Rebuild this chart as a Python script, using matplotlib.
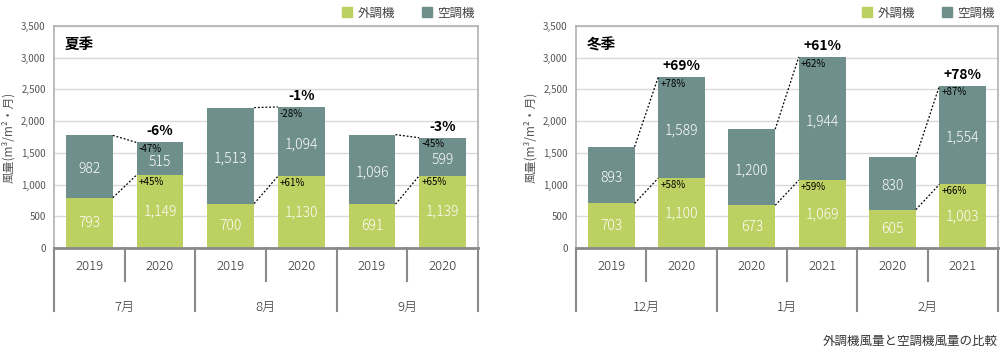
import matplotlib.pyplot as plt
import matplotlib.transforms as mtransforms
from matplotlib.patches import Patch

plt.rcParams['font.family'] = ['Noto Sans CJK JP', 'DejaVu Sans']

# データ
years_summer = ['2019', '2020', '2019', '2020', '2019', '2020']
months_summer = ['7月', '8月', '9月']
out_summer = [793, 1149, 700, 1130, 691, 1139]
ac_summer = [982, 515, 1513, 1094, 1096, 599]
out_pct_summer = ['+45%', '+61%', '+65%']
ac_pct_summer = ['-47%', '-28%', '-45%']
tot_pct_summer = ['-6%', '-1%', '-3%']

years_winter = ['2019', '2020', '2020', '2021', '2020', '2021']
months_winter = ['12月', '1月', '2月']
out_winter = [703, 1100, 673, 1069, 605, 1003]
ac_winter = [893, 1589, 1200, 1944, 830, 1554]
out_pct_winter = ['+58%', '+59%', '+66%']
ac_pct_winter = ['+78%', '+62%', '+87%']
tot_pct_winter = ['+69%', '+61%', '+78%']

GREEN = '#bdd062'
TEAL = '#6f8f8c'
W = 0.665


def draw(ax, title, years, months, out, ac, out_pct, ac_pct, tot_pct):
    x = [i + 0.5 for i in range(len(out))]
    ax.set_xlim(0, 6)
    ax.set_ylim(0, 3500)
    ax.set_yticks(range(0, 3501, 500))
    ax.set_yticklabels([f'{v:,}' for v in range(0, 3501, 500)], fontsize=7, color='#555555')
    ax.tick_params(axis='y', length=0, pad=6)
    ax.set_xticks([])
    ax.grid(axis='y', color='#d9d9d9', linewidth=1)
    ax.set_axisbelow(True)
    for s in ['left', 'right', 'top']:
        ax.spines[s].set_color('#b0b0b0')
        ax.spines[s].set_linewidth(1.2)
    ax.spines['bottom'].set_color('#8a8a8a')
    ax.spines['bottom'].set_linewidth(2)

    ax.bar(x, out, width=W, color=GREEN, zorder=2)
    ax.bar(x, ac, width=W, bottom=out, color=TEAL, zorder=2)

    for i in range(len(out)):
        ax.text(x[i], out[i] / 2, f'{out[i]:,}', ha='center', va='center',
                color='white', fontsize=10, fontweight='light', zorder=3)
        ax.annotate(f'{ac[i]:,}', (x[i], out[i] + ac[i] / 2), xytext=(0, -2),
                    textcoords='offset points', ha='center', va='center',
                    color='white', fontsize=10, fontweight='light', zorder=3)

    # 比較（点線・増減率）
    for k in range(3):
        a, b = 2 * k, 2 * k + 1
        ta, tb = out[a] + ac[a], out[b] + ac[b]
        ax.plot([x[a] + W / 2, x[b] - W / 2], [ta, tb], ls=(0, (1.5, 1.5)),
                color='black', lw=0.9, zorder=3)
        ax.plot([x[a] + W / 2, x[b] - W / 2], [out[a], out[b]], ls=(0, (1.5, 1.5)),
                color='black', lw=0.9, zorder=3)
        ax.annotate(ac_pct[k], (x[b] - W / 2, tb), xytext=(1.5, -1.2), textcoords='offset points',
                    ha='left', va='top', fontsize=7, zorder=4)
        ax.annotate(out_pct[k], (x[b] - W / 2, out[b]), xytext=(1.5, -1.2), textcoords='offset points',
                    ha='left', va='top', fontsize=7, zorder=4)
        ax.annotate(tot_pct[k], (x[b], tb), xytext=(0, 3), textcoords='offset points',
                    ha='center', va='bottom', fontsize=10, fontweight='bold', zorder=4)

    ax.text(0.025, 0.955, title, transform=ax.transAxes, ha='left', va='top',
            fontsize=10.5, fontweight='bold')

    # 下部の区切り線とラベル
    tr = mtransforms.blended_transform_factory(ax.transData, ax.transAxes)
    for i in range(1, 6, 2):
        ax.plot([i, i], [0, -0.15], transform=tr, color='#8a8a8a', lw=1.5, clip_on=False)
    for i in range(0, 7, 2):
        ax.plot([i, i], [0, -0.285], transform=tr, color='#8a8a8a', lw=1.5, clip_on=False)
    for i, yl in enumerate(years):
        ax.text(x[i], -0.085, yl, transform=tr, ha='center', va='center',
                fontsize=9.5, color='#333333', fontweight='light')
    for k, m in enumerate(months):
        ax.text(2 * k + 1, -0.266, m, transform=tr, ha='center', va='center',
                fontsize=9.5, color='#333333', fontweight='light')

    ax.set_ylabel('風量(m³/m²・月)', fontsize=8.5, color='#555555', labelpad=4)

    handles = [Patch(color=GREEN, label='外調機'), Patch(color=TEAL, label='空調機')]
    leg = ax.legend(handles=handles, loc='lower right', bbox_to_anchor=(1.01, 0.995), ncol=2,
                    frameon=False, fontsize=9, handlelength=0.8, handleheight=0.8,
                    handletextpad=0.4, columnspacing=2.2, borderpad=0.1)
    for t in leg.get_texts():
        t.set_color('#444444')


fig = plt.figure(figsize=(10, 3.52), dpi=100)
ax1 = fig.add_axes([0.054, 0.2955, 0.424, 0.6307])
ax2 = fig.add_axes([0.576, 0.2955, 0.422, 0.6307])

draw(ax1, '夏季', years_summer, months_summer, out_summer, ac_summer,
     out_pct_summer, ac_pct_summer, tot_pct_summer)
draw(ax2, '冬季', years_winter, months_winter, out_winter, ac_winter,
     out_pct_winter, ac_pct_winter, tot_pct_winter)

fig.text(0.998, 0.031, '外調機風量と空調機風量の比較', ha='right', va='center',
         fontsize=9, color='#333333')

fig.savefig('out.png', dpi=100)
